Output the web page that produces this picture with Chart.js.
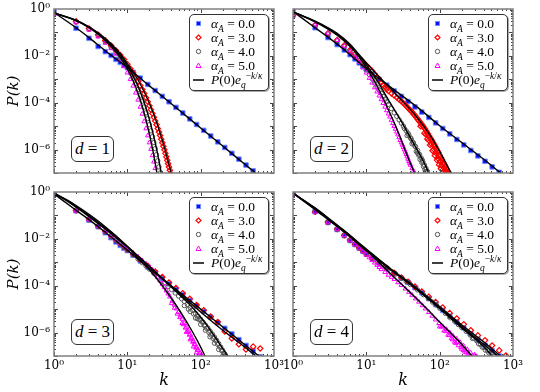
<!DOCTYPE html>
<html lang="en">
<head>
<meta charset="UTF-8">
<title>P(k) for d = 1..4</title>
<script src="https://cdn.jsdelivr.net/npm/chart.js"></script>
<style>
    body { margin: 0; background: #fff; }
    #fig { position: relative; width: 540px; height: 392px; overflow: hidden; font-family: 'Liberation Serif', 'DejaVu Serif', serif; }
    #fig canvas { position: absolute; }
    .legend { position: absolute; width: 80px; height: 77px; box-sizing: border-box; border: 1px solid #333; border-radius: 5px; background: #fff; box-shadow: 1px 1px 0 #aaa; font-size: 13.5px; color: #000; }
    .legend .row { position: absolute; left: 0; width: 78px; height: 14px; line-height: 14px; white-space: nowrap; }
    .legend svg { position: absolute; left: 2px; top: 1px; }
    .legend .txt { position: absolute; left: 21px; top: 0; }
    .legend sub, .legend sup { font-size: 70%; line-height: 0; }
    .dbox { position: absolute; width: 43px; height: 26px; box-sizing: border-box; border: 1px solid #333; border-radius: 6px; background: #fff; text-align: center; line-height: 24px; font-size: 17px; }
</style>
</head>
<body>
<div id="fig"></div>
<script>
    // axis ticks
    const X_TICKS = [1, 10, 100, 1000];
    const X_LABELS = ['10\u2070', '10\u00b9', '10\u00b2', '10\u00b3'];
    const Y_TICKS = [1e-6, 1e-4, 1e-2, 1];
    const Y_LABELS = ['10\u207b\u2076', '10\u207b\u2074', '10\u207b\u00b2', '10\u2070'];
    const ALPHAS = ['0.0', '3.0', '4.0', '5.0'];

    // log-binned k used by the alpha_A = 0 series (and alpha_A = 3 in d = 3, 4)
    const K_BIN = [1, 2, 3, 4, 5, 6, 7, 8, 9, 10, 12, 15, 19, 24, 30, 37, 46, 57, 71, 88, 110, 137, 171, 213, 266, 332, 415, 519, 648];
    const K_BIN_D4 = [1, 2, 3, 4, 5, 6, 7, 8, 9, 10, 12, 15, 19, 24, 30, 37, 46, 57, 71, 88, 110, 137, 171, 213, 266, 332, 415, 519, 648, 800];

    // values are log10 P(k)
    const A0_D1 = [-0.08, -0.82, -1.25, -1.6, -1.82, -1.98, -2.15, -2.28, -2.4, -2.5, -2.7, -2.95, -3.22, -3.48, -3.73, -3.96, -4.2, -4.44, -4.69, -4.93, -5.18, -5.42, -5.67, -5.91, -6.16, -6.41, -6.66, -6.91, -7.16];
    const A0_D2 = [-0.05, -0.8, -1.22, -1.52, -1.75, -1.95, -2.13, -2.3, -2.45, -2.58, -2.77, -3.0, -3.25, -3.5, -3.73, -3.95, -4.18, -4.4, -4.63, -4.86, -5.1, -5.33, -5.57, -5.8, -6.04, -6.27, -6.5, -6.74, -6.97];
    const A0_D3 = [-0.06, -0.8, -1.2, -1.48, -1.74, -1.95, -2.13, -2.28, -2.4, -2.5, -2.7, -2.94, -3.2, -3.45, -3.69, -3.92, -4.16, -4.39, -4.63, -4.86, -5.1, -5.34, -5.58, -5.82, -6.06, -6.3, -6.55, -6.79, -7.03];
    const A0_D4 = [-0.06, -0.84, -1.3, -1.6, -1.86, -2.07, -2.24, -2.4, -2.53, -2.65, -2.83, -3.05, -3.27, -3.48, -3.68, -3.86, -4.08, -4.3, -4.55, -4.8, -5.05, -5.3, -5.55, -5.8, -6.05, -6.3, -6.54, -6.77, -7.0];
    const A3_D3 = [-0.12, -0.78, -1.15, -1.45, -1.68, -1.88, -2.05, -2.2, -2.33, -2.45, -2.66, -2.9, -3.15, -3.4, -3.63, -3.86, -4.1, -4.32, -4.56, -4.82, -5.05, -5.32, -5.55, -5.95, -6.25, -6.5, -6.72, -6.6, -6.68];
    const A3_D4 = [-0.12, -0.84, -1.28, -1.58, -1.84, -2.05, -2.22, -2.38, -2.51, -2.63, -2.8, -3.02, -3.24, -3.45, -3.65, -3.83, -4.04, -4.25, -4.47, -4.7, -4.93, -5.17, -5.4, -5.65, -5.9, -6.12, -6.33, -6.55, -6.76, -6.98];

    // [k, log10 P] pairs
    const A3_D1 = [[1,-0.2],[2,-0.53],[3,-0.83],[4,-1.1],[5,-1.34],[6,-1.56],[7,-1.77],[8,-1.97],[9,-2.16],[10,-2.36],[11,-2.55],[12,-2.73],[13,-2.91],[14,-3.09],[15,-3.27],[16,-3.44],[17,-3.61],[18,-3.79],[19,-3.96],[20,-4.13],[21,-4.3],[22,-4.46],[23,-4.62],[24,-4.78],[25,-4.94],[26,-5.1],[27,-5.25],[28,-5.4],[29,-5.56],[30,-5.71],[31,-5.86],[32,-6.01],[33,-6.16],[34,-6.31],[35,-6.46],[36,-6.6],[37,-6.74],[38,-6.88],[39,-7.02]];
    const A4_D1 = [[1,-0.2],[2,-0.55],[3,-0.86],[4,-1.14],[5,-1.4],[6,-1.63],[7,-1.85],[8,-2.07],[9,-2.28],[10,-2.5],[11,-2.73],[12,-2.96],[13,-3.2],[14,-3.44],[15,-3.68],[16,-3.93],[17,-4.18],[18,-4.43],[19,-4.68],[20,-4.94],[21,-5.2],[22,-5.45],[23,-5.7],[24,-5.96],[25,-6.22],[26,-6.48],[27,-6.74],[28,-7.0]];
    const A5_D1 = [[1,-0.22],[2,-0.58],[3,-0.89],[4,-1.18],[5,-1.45],[6,-1.68],[7,-1.92],[8,-2.18],[9,-2.45],[10,-2.72],[11,-3.0],[12,-3.28],[13,-3.58],[14,-3.88],[15,-4.18],[16,-4.48],[17,-4.8],[18,-5.1],[19,-5.4],[20,-5.7],[21,-5.98],[22,-6.25],[23,-6.52],[24,-6.8],[25,-7.08]];

    const A3_D2 = [[1,-0.28],[2,-0.68],[3,-1.04],[4,-1.32],[5,-1.55],[6,-1.75],[7,-1.93],[8,-2.1],[9,-2.26],[10,-2.4],[11,-2.53],[12,-2.65],[13,-2.78],[14,-2.9],[15,-3.02],[16,-3.13],[17,-3.24],[18,-3.33],[19,-3.42],[20,-3.5],[22,-3.6],[24,-3.69],[26,-3.78],[28,-3.86],[30,-3.94],[32,-4.02],[34,-4.1],[36,-4.18],[38,-4.26],[40,-4.33],[42,-4.4],[44,-4.48],[46,-4.55],[48,-4.62],[50,-4.7],[52,-4.76],[54,-4.83],[56,-4.9],[58,-4.96],[60,-5.03],[63,-5.12],[66,-5.22],[69,-5.32],[72,-5.42],[75,-5.52],[78,-5.6],[81,-5.7],[84,-5.78],[87,-5.87],[90,-5.97],[93,-6.05],[96,-6.13],[100,-6.25],[104,-6.35],[108,-6.45],[112,-6.55],[116,-6.64],[120,-6.73],[125,-6.84],[130,-6.94],[135,-7.04],
        [55,-5.0],[62,-5.3],[68,-5.55],[74,-5.8],[80,-6.05],[86,-6.25],[92,-6.45],[98,-6.65],[104,-6.82],[110,-6.98],
        [65,-5.35],[71,-5.6],[77,-5.75],[83,-5.98],[89,-6.15],[95,-6.38],[102,-6.52],[106,-6.68],[114,-6.78],[118,-6.9],[122,-6.97],[128,-7.02]];
    const A4_D2 = [[1,-0.28],[2,-0.7],[3,-1.06],[4,-1.35],[5,-1.6],[6,-1.82],[7,-2.02],[8,-2.2],[9,-2.4],[10,-2.6],[11,-2.8],[12,-2.98],[13,-3.16],[14,-3.33],[15,-3.47],[16,-3.6],[17,-3.73],[18,-3.85],[19,-3.96],[20,-4.07],[22,-4.25],[24,-4.43],[26,-4.58],[28,-4.73],[30,-4.87],[32,-5.0],[35,-5.2],[38,-5.38],[41,-5.55],[44,-5.72],[47,-5.88],[50,-6.04],[53,-6.2],[56,-6.36],[59,-6.52],[62,-6.66],[65,-6.8],[68,-6.93],
        [36,-5.4],[42,-5.75],[48,-6.08],[54,-6.42],[60,-6.72],[64,-6.95],
        [33,-5.1],[37,-5.3],[40,-5.5],[43,-5.68],[46,-5.85],[50,-6.15],[52,-6.25],[57,-6.55],[58,-6.45],[63,-6.85],[66,-6.95]];
    const A5_D2 = [[1,-0.3],[2,-0.68],[3,-1.04],[4,-1.33],[5,-1.58],[6,-1.82],[7,-2.05],[8,-2.27],[9,-2.5],[10,-2.72],[11,-2.95],[12,-3.15],[13,-3.35],[14,-3.53],[15,-3.7],[16,-3.86],[17,-4.02],[18,-4.18],[19,-4.33],[20,-4.47],[21,-4.6],[22,-4.74],[23,-4.88],[24,-5.0],[25,-5.12],[26,-5.24],[27,-5.36],[28,-5.48],[29,-5.6],[30,-5.7],[31,-5.8],[32,-5.9],[33,-6.0],[34,-6.1],[35,-6.2],[36,-6.3],[37,-6.4],[38,-6.5],[39,-6.58],[40,-6.66],[42,-6.8],[44,-6.92],[46,-7.05]];

    const A4_D3 = [[1,-0.12],[2,-0.8],[3,-1.18],[4,-1.47],[5,-1.7],[6,-1.9],[7,-2.07],[8,-2.22],[9,-2.35],[10,-2.48],[12,-2.68],[14,-2.86],[16,-3.02],[18,-3.16],[20,-3.29],[23,-3.47],[26,-3.62],[29,-3.76],[32,-3.88],[36,-4.03],[40,-4.16],[45,-4.31],[50,-4.44],[55,-4.56],[60,-4.67],[66,-4.8],[72,-4.93],[78,-5.05],[85,-5.18],[92,-5.31],[100,-5.44],[108,-5.56],[116,-5.68],[125,-5.8],[134,-5.93],[144,-6.06],[154,-6.19],[165,-6.33],[176,-6.47],[188,-6.62],[200,-6.76],[212,-6.9],[225,-7.04],
        [60,-4.85],[72,-5.1],[85,-5.38],[100,-5.65],[116,-5.9],[134,-6.18],[154,-6.45],[176,-6.72],[200,-7.0],
        [68,-5.0],[80,-5.2],[90,-5.4],[95,-5.45],[104,-5.55],[112,-5.7],[120,-5.82],[130,-6.0],[138,-6.1],[148,-6.25],[160,-6.35],[170,-6.5],[182,-6.62],[194,-6.78],[206,-6.88],[218,-6.98]];
    const A5_D3 = [[1,-0.15],[2,-0.8],[3,-1.18],[4,-1.45],[5,-1.68],[6,-1.87],[7,-2.03],[8,-2.17],[9,-2.3],[10,-2.42],[12,-2.6],[14,-2.77],[16,-2.93],[18,-3.07],[20,-3.2],[22,-3.32],[24,-3.45],[26,-3.62],[28,-3.78],[30,-3.93],[32,-4.07],[34,-4.21],[36,-4.34],[38,-4.47],[41,-4.65],[44,-4.82],[47,-4.98],[50,-5.13],[53,-5.28],[56,-5.42],[60,-5.6],[64,-5.76],[68,-5.92],[72,-6.08],[76,-6.23],[80,-6.37],[84,-6.5],[88,-6.62],[93,-6.75],[98,-6.87],[103,-6.98],
        [40,-4.75],[48,-5.2],[56,-5.6],[64,-5.98],[72,-6.3],[80,-6.6],[88,-6.85],
        [44,-4.95],[52,-5.35],[58,-5.65],[62,-5.8],[66,-5.95],[70,-6.1],[74,-6.25],[78,-6.4],[82,-6.5],[86,-6.65],[90,-6.75],[95,-6.9],[100,-6.98]];

    const A4_D4 = [[1,-0.08],[2,-0.84],[3,-1.3],[4,-1.6],[5,-1.86],[6,-2.07],[7,-2.24],[8,-2.4],[9,-2.54],[10,-2.66],[12,-2.84],[14,-2.98],[16,-3.1],[18,-3.2],[20,-3.3],[25,-3.5],[30,-3.68],[35,-3.82],[40,-3.95],[50,-4.18],[60,-4.38],[70,-4.55],[80,-4.7],[90,-4.83],[100,-4.96],[120,-5.18],[140,-5.37],[160,-5.52],[180,-5.66],[200,-5.78],[230,-5.95],[260,-6.1],[280,-6.25],[290,-6.23],[320,-6.35],[340,-6.48],[360,-6.5],[380,-6.62],[400,-6.63],[420,-6.75],[450,-6.77],[470,-6.88],[500,-6.9],[550,-7.02]];
    const A5_D4 = [[1,-0.1],[2,-0.85],[3,-1.3],[4,-1.6],[5,-1.85],[6,-2.07],[7,-2.25],[8,-2.41],[9,-2.55],[10,-2.68],[11,-2.8],[12,-2.91],[13,-3.02],[14,-3.12],[15,-3.21],[16,-3.3],[18,-3.42],[20,-3.54],[22,-3.63],[24,-3.72],[27,-3.86],[30,-3.98],[34,-4.13],[38,-4.27],[42,-4.4],[47,-4.55],[52,-4.69],[58,-4.84],[64,-4.98],[71,-5.13],[79,-5.29],[88,-5.45],[98,-5.6],[110,-5.74],[123,-5.86],[137,-6.0],[152,-6.14],[170,-6.27],[190,-6.42],[212,-6.57],[237,-6.72],[264,-6.86],[295,-7.0],
        [100,-5.75],[115,-5.92],[130,-6.1],[145,-6.25],[160,-6.4],[180,-6.55],[200,-6.7],[220,-6.82],[240,-6.95],[260,-7.0],
        [105,-5.75],[120,-5.95],[135,-6.12],[150,-6.3],[165,-6.45],[175,-6.4],[195,-6.62],[210,-6.75],[230,-6.85],[250,-6.92],[280,-7.0],[300,-6.95],[320,-7.02]];

    // fitted curves P(0) e_q^(-k/kappa)
    const F0_D1 = [[1,-0.15],[2,-0.8],[3,-1.22],[5,-1.78],[10,-2.5],[20,-3.28],[50,-4.3],[100,-5.08],[200,-5.85],[400,-6.63],[560,-7.0]];
    const F3_D1 = [[1,-0.17],[2,-0.48],[3,-0.76],[4,-1.02],[5,-1.26],[6,-1.48],[8,-1.9],[10,-2.33],[13,-2.86],[16,-3.37],[20,-4.03],[25,-4.82],[30,-5.6],[35,-6.35],[40,-7.05]];
    const F4_D1 = [[1,-0.17],[2,-0.49],[3,-0.78],[4,-1.05],[5,-1.3],[6,-1.54],[8,-1.98],[10,-2.42],[12,-2.86],[14,-3.31],[16,-3.77],[18,-4.24],[20,-4.72],[22,-5.21],[24,-5.71],[26,-6.22],[28,-6.74],[30,-7.26]];
    const F5_D1 = [[1,-0.17],[2,-0.5],[3,-0.8],[4,-1.08],[5,-1.35],[6,-1.6],[8,-2.07],[10,-2.55],[12,-3.06],[14,-3.6],[16,-4.16],[18,-4.74],[20,-5.34],[22,-5.95],[24,-6.58],[26,-7.22]];

    const F0_D2 = [[1,-0.1],[2,-0.8],[3,-1.2],[5,-1.74],[10,-2.55],[20,-3.27],[50,-4.2],[100,-4.98],[200,-5.7],[500,-6.66],[700,-7.05]];
    const F3_D2 = [[1,-0.12],[2,-0.52],[3,-0.8],[4,-1.04],[6,-1.5],[8,-1.95],[10,-2.3],[15,-2.9],[20,-3.3],[30,-3.88],[45,-4.48],[60,-4.98],[80,-5.55],[100,-6.08],[125,-6.65],[150,-7.12]];
    const F4_D2 = [[1,-0.12],[2,-0.53],[3,-0.83],[4,-1.08],[6,-1.55],[8,-1.98],[10,-2.38],[14,-3.05],[20,-3.88],[30,-4.8],[40,-5.5],[50,-6.05],[60,-6.5],[72,-7.02]];
    const F5_D2 = [[1,-0.12],[2,-0.55],[3,-0.86],[4,-1.12],[6,-1.6],[8,-2.05],[10,-2.5],[13,-3.1],[16,-3.65],[20,-4.3],[25,-4.98],[30,-5.6],[35,-6.15],[40,-6.6],[47,-7.1]];

    const F0_D3 = [[1,-0.08],[2,-0.78],[3,-1.18],[5,-1.72],[10,-2.48],[20,-3.27],[50,-4.25],[100,-5.0],[200,-5.76],[400,-6.52],[650,-7.05]];
    const F3_D3 = [[1,-0.05],[1.5,-0.38],[2,-0.65],[3,-1.05],[4,-1.35],[6,-1.78],[10,-2.35],[15,-2.83],[20,-3.18],[30,-3.68],[50,-4.3],[100,-5.12],[200,-5.9],[400,-6.62],[560,-6.98]];
    const F4_D3 = [[1,-0.05],[1.5,-0.36],[2,-0.62],[3,-1.0],[4,-1.3],[5,-1.53],[7,-1.9],[10,-2.32],[15,-2.82],[20,-3.17],[30,-3.7],[50,-4.35],[80,-4.98],[120,-5.66],[170,-6.35],[235,-7.02]];
    const F5_D3 = [[1,-0.05],[1.5,-0.34],[2,-0.58],[3,-0.95],[4,-1.24],[5,-1.48],[7,-1.87],[10,-2.33],[15,-2.9],[20,-3.32],[30,-4.0],[45,-4.78],[60,-5.38],[80,-6.05],[100,-6.62],[115,-7.02]];

    const F0_D4 = [[1,-0.05],[2,-0.75],[3,-1.18],[5,-1.72],[10,-2.5],[20,-3.25],[40,-3.95],[100,-4.95],[200,-5.75],[400,-6.5],[630,-7.02]];
    const F3_D4 = [[1,-0.05],[2,-0.68],[3,-1.1],[5,-1.65],[10,-2.43],[20,-3.2],[40,-3.9],[100,-4.9],[200,-5.68],[400,-6.4],[700,-7.05]];
    const F4_D4 = [[1,-0.05],[2,-0.7],[3,-1.12],[5,-1.67],[10,-2.46],[20,-3.22],[40,-3.95],[100,-4.98],[200,-5.8],[400,-6.6],[520,-7.0]];
    const F5_D4 = [[1,-0.05],[2,-0.72],[3,-1.15],[5,-1.7],[10,-2.5],[20,-3.4],[40,-4.3],[70,-5.05],[100,-5.55],[150,-6.1],[200,-6.5],[275,-7.0]];

    const zip = (ks, vs) => ks.map((k, i) => [k, vs[i]]);
    const toPoints = pairs => pairs.map(([k, lp]) => ({ x: k, y: Math.pow(10, lp) }));

    const PLOT_W = 220, PLOT_H = 164;
    const panels = [
        { d: 1, left: 54, top: 9, xLabels: false, yLabels: true,
          sets: [zip(K_BIN, A0_D1), A3_D1, A4_D1, A5_D1], fits: [F0_D1, F3_D1, F4_D1, F5_D1] },
        { d: 2, left: 293, top: 9, xLabels: false, yLabels: false,
          sets: [zip(K_BIN, A0_D2), A3_D2, A4_D2, A5_D2], fits: [F0_D2, F3_D2, F4_D2, F5_D2] },
        { d: 3, left: 54, top: 192, xLabels: true, yLabels: true,
          sets: [zip(K_BIN, A0_D3), zip(K_BIN, A3_D3), A4_D3, A5_D3], fits: [F0_D3, F3_D3, F4_D3, F5_D3] },
        { d: 4, left: 293, top: 192, xLabels: true, yLabels: false,
          sets: [zip(K_BIN, A0_D4), zip(K_BIN_D4, A3_D4), A4_D4, A5_D4], fits: [F0_D4, F3_D4, F4_D4, F5_D4] }
    ];

    // marker styles: alpha_A = 0, 3, 4, 5
    const STYLES = [
        { pointStyle: 'rect', pointRadius: 3.2, backgroundColor: '#1010ff', borderColor: '#6f8fff', borderWidth: 1, order: 4 },
        { pointStyle: 'rectRot', pointRadius: 2.7, backgroundColor: 'rgba(0,0,0,0)', borderColor: '#ff0000', borderWidth: 1.2, order: 3 },
        { pointStyle: 'circle', pointRadius: 2.2, backgroundColor: 'rgba(0,0,0,0)', borderColor: '#555555', borderWidth: 1, order: 2 },
        { pointStyle: 'triangle', pointRadius: 2.6, backgroundColor: 'rgba(0,0,0,0)', borderColor: '#ff00ff', borderWidth: 1, order: 1 }
    ];
    const MARKER_SVG = [
        '<svg width="14" height="12"><rect x="4.5" y="3.5" width="4" height="4" fill="#1010ff" stroke="#6f8fff"/></svg>',
        '<svg width="14" height="12"><polygon points="6.5,3 9,5.5 6.5,8 4,5.5" fill="none" stroke="#ff0000" stroke-width="1.2"/></svg>',
        '<svg width="14" height="12"><circle cx="6.5" cy="5.5" r="2.2" fill="none" stroke="#555"/></svg>',
        '<svg width="14" height="12"><polygon points="6.5,3 9,7.5 4,7.5" fill="none" stroke="#ff00ff"/></svg>',
        '<svg width="14" height="12"><line x1="1" y1="6" x2="12" y2="6" stroke="#000" stroke-width="1.5"/></svg>'
    ];

    // frame and inward ticks on all four sides
    const framePlugin = {
        id: 'frame',
        afterDraw(chart) {
            const { ctx, chartArea: a, scales: { x, y } } = chart;
            ctx.save();
            ctx.strokeStyle = '#444';
            ctx.lineWidth = 1;
            ctx.beginPath();
            for (let e = 0; e < 3; e++) {
                for (let m = 1; m < 10; m++) {
                    const px = Math.round(x.getPixelForValue(m * Math.pow(10, e))) + 0.5;
                    const len = m === 1 ? 4 : 2;
                    ctx.moveTo(px, a.bottom); ctx.lineTo(px, a.bottom - len);
                    ctx.moveTo(px, a.top); ctx.lineTo(px, a.top + len);
                }
            }
            for (let e = -7; e < 0; e++) {
                for (let m = 1; m < 10; m++) {
                    const py = Math.round(y.getPixelForValue(m * Math.pow(10, e))) + 0.5;
                    const len = m === 1 ? 4 : 2;
                    ctx.moveTo(a.left, py); ctx.lineTo(a.left + len, py);
                    ctx.moveTo(a.right, py); ctx.lineTo(a.right - len, py);
                }
            }
            ctx.stroke();
            ctx.strokeStyle = '#808080';
            ctx.lineWidth = 1.5;
            ctx.strokeRect(a.left, a.top, a.right - a.left, a.bottom - a.top);
            ctx.restore();
        }
    };

    const fig = document.getElementById('fig');
    const tickFont = { family: 'DejaVu Serif', size: 12 };

    panels.forEach(p => {
        const padL = 54, padT = 12, padR = 16, padB = p.xLabels ? 34 : 14;
        const cv = document.createElement('canvas');
        cv.width = padL + PLOT_W + padR;
        cv.height = padT + PLOT_H + padB;
        cv.style.left = (p.left - padL) + 'px';
        cv.style.top = (p.top - padT) + 'px';
        fig.appendChild(cv);

        const datasets = [];
        p.sets.forEach((s, i) => datasets.push(Object.assign({ data: toPoints(s), showLine: false }, STYLES[i])));
        p.fits.forEach(f => datasets.push({
            data: toPoints(f), showLine: true, pointRadius: 0, borderColor: '#000', borderWidth: 1.4,
            cubicInterpolationMode: 'monotone', order: 0
        }));

        new Chart(cv, {
            type: 'scatter',
            data: { datasets },
            options: {
                responsive: false,
                animation: false,
                layout: { padding: { top: padT, right: padR, left: 0, bottom: 0 } },
                plugins: { legend: { display: false }, tooltip: { enabled: false } },
                scales: {
                    x: {
                        type: 'logarithmic', min: 1, max: 1000, position: 'bottom',
                        grid: { display: false, drawTicks: false },
                        border: { display: false },
                        afterBuildTicks: s => { s.ticks = X_TICKS.map(v => ({ value: v })); },
                        afterFit: s => { s.height = padB; },
                        ticks: { display: p.xLabels, padding: 3, color: '#000', font: tickFont, maxRotation: 0, autoSkip: false,
                                 callback: (v, i) => X_LABELS[i] },
                        title: { display: p.xLabels, text: 'k', color: '#000', padding: { top: 0, bottom: 0 },
                                 font: { family: 'DejaVu Serif', size: 16, style: 'italic' } }
                    },
                    y: {
                        type: 'logarithmic', min: 1e-7, max: 1,
                        grid: { display: false, drawTicks: false },
                        border: { display: false },
                        afterBuildTicks: s => { s.ticks = Y_TICKS.map(v => ({ value: v })); },
                        afterFit: s => { s.width = padL; },
                        ticks: { display: p.yLabels, padding: 4, color: '#000', font: tickFont, autoSkip: false,
                                 callback: (v, i) => Y_LABELS[i] },
                        title: { display: p.yLabels, text: 'P(k)', color: '#000', padding: { top: 5, bottom: 0 },
                                 font: { family: 'DejaVu Serif', size: 15, style: 'italic' } }
                    }
                }
            },
            plugins: [framePlugin]
        });

        // legend box
        const lg = document.createElement('div');
        lg.className = 'legend';
        lg.style.left = (p.left + PLOT_W - 85) + 'px';
        lg.style.top = (p.top + 5) + 'px';
        let html = '';
        ALPHAS.forEach((a, i) => {
            html += '<div class="row" style="top:' + (2 + 14 * i) + 'px">' + MARKER_SVG[i] +
                '<span class="txt"><i>\u03b1</i><sub><i>A</i></sub> = ' + a + '</span></div>';
        });
        html += '<div class="row" style="top:58px">' + MARKER_SVG[4] +
            '<span class="txt"><i>P</i>(0)<i>e</i><sub><i>q</i></sub><sup>\u2212<i>k</i>/<i>\u03ba</i></sup></span></div>';
        lg.innerHTML = html;
        fig.appendChild(lg);

        // d = n label
        const db = document.createElement('div');
        db.className = 'dbox';
        db.style.left = (p.left + 17) + 'px';
        db.style.top = (p.top + 127) + 'px';
        db.innerHTML = '<i>d</i> = ' + p.d;
        fig.appendChild(db);
    });
</script>
</body>
</html>
